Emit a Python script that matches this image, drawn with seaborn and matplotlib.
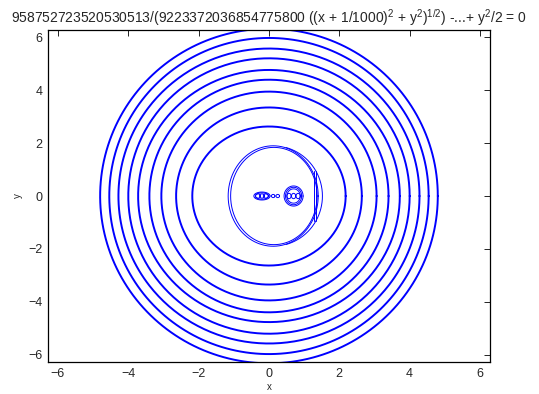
import numpy as np
import pandas as pd
import seaborn as sns
import matplotlib.pyplot as plt

# outer level-set rings (semi-axes in data units)
ring_rx = [2.18, 2.64, 3.06, 3.40, 3.72, 4.00, 4.28, 4.54, 4.80]
ring_ry = [2.63, 3.35, 3.95, 4.40, 4.77, 5.21, 5.58, 5.98, 6.33]

# inner double ring around the two sources
inner_cx = [0.12, 0.14]
inner_rx = [1.28, 1.23]
inner_ry = [1.90, 1.84]

# thin partial arc on the right of the inner ring (degrees)
arc_cx = 0.12
arc_rx = 1.40
arc_ry = 1.90
arc_t0 = -75
arc_t1 = 75

# straight piece on the right side of the inner ring
seg_x = [1.29, 1.34]
seg_y0 = -0.95
seg_y1 = 0.95

# small closed curves near the two singular points
blob_cx = [-0.2, -0.2, -0.31, -0.2, -0.09, 0.12, 0.25, 0.70, 0.70, 0.70, 0.57, 0.70, 0.83]
blob_cy = [0.0, 0.0, 0.0, 0.0, 0.0, 0.0, 0.0, 0.0, 0.0, 0.0, 0.0, 0.0, 0.0]
blob_rx = [0.23, 0.19, 0.07, 0.07, 0.07, 0.05, 0.05, 0.27, 0.23, 0.19, 0.06, 0.06, 0.06]
blob_ry = [0.15, 0.12, 0.08, 0.08, 0.08, 0.06, 0.06, 0.38, 0.33, 0.27, 0.10, 0.10, 0.10]

xticks = [-6, -4, -2, 0, 2, 4, 6]
title = (r"958752723520530513/(9223372036854775800 ((x + 1/1000)$^2$"
         r" + y$^2$)$^{1/2}$) -...+ y$^2$/2 = 0")


def ellipse(cx, cy, rx, ry, t0=0, t1=360, n=400):
    t = np.radians(np.linspace(t0, t1, n))
    return cx + rx * np.cos(t), cy + ry * np.sin(t)


thick = []
for i, (rx, ry) in enumerate(zip(ring_rx, ring_ry)):
    x, y = ellipse(0, 0, rx, ry)
    thick.append(pd.DataFrame({'x': x, 'y': y, 'id': i}))
thick = pd.concat(thick)

thin = []
k = 0
for cx, rx, ry in zip(inner_cx, inner_rx, inner_ry):
    x, y = ellipse(cx, 0, rx, ry)
    thin.append(pd.DataFrame({'x': x, 'y': y, 'id': k}))
    k += 1
x, y = ellipse(arc_cx, 0, arc_rx, arc_ry, arc_t0, arc_t1)
thin.append(pd.DataFrame({'x': x, 'y': y, 'id': k}))
k += 1
for sx in seg_x:
    thin.append(pd.DataFrame({'x': [sx, sx], 'y': [seg_y0, seg_y1], 'id': k}))
    k += 1
for cx, cy, rx, ry in zip(blob_cx, blob_cy, blob_rx, blob_ry):
    x, y = ellipse(cx, cy, rx, ry, n=80)
    thin.append(pd.DataFrame({'x': x, 'y': y, 'id': k}))
    k += 1
thin = pd.concat(thin)

sns.set_style('white')
plt.rcParams['font.family'] = ['Liberation Sans', 'DejaVu Sans']
plt.rcParams['mathtext.fontset'] = 'custom'
plt.rcParams['mathtext.rm'] = 'Liberation Sans'
plt.rcParams['mathtext.it'] = 'Liberation Sans'

fig = plt.figure(figsize=(5.39, 3.94), dpi=100)
ax = fig.add_axes([0.089, 0.081, 0.82, 0.843])

sns.lineplot(data=thick, x='x', y='y', units='id', estimator=None, sort=False,
             color='#0000ff', lw=1.4, ax=ax)
sns.lineplot(data=thin, x='x', y='y', units='id', estimator=None, sort=False,
             color='#0000ff', lw=0.7, ax=ax)

lim = 2 * np.pi
ax.set_xlim(-lim, lim)
ax.set_ylim(-lim, lim)
ax.set_xticks(xticks)
ax.set_yticks(xticks)
ax.tick_params(direction='in', length=4, width=0.6, labelsize=9, color='black',
               top=True, right=True, pad=4)
for s in ax.spines.values():
    s.set_color('black')
    s.set_linewidth(0.9)
ax.set_xlabel('x', fontsize=7, labelpad=2)
ax.set_ylabel('y', fontsize=7, labelpad=4)
ax.set_title(title, fontsize=10, pad=5)

fig.savefig('out.png', dpi=100)
